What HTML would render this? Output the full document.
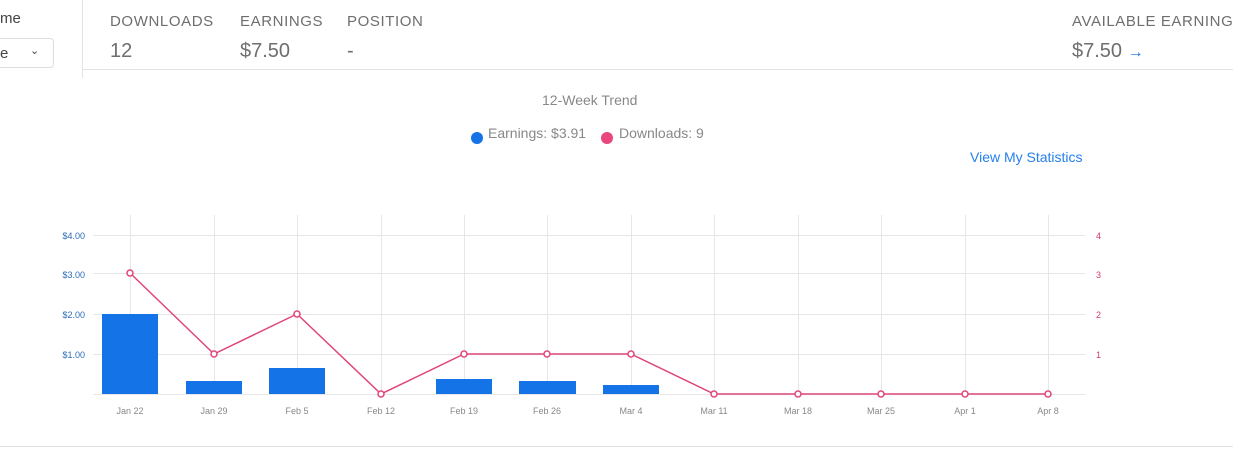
<!DOCTYPE html>
<html><head><style>
body{margin:0;width:1233px;height:451px;overflow:hidden;background:#fff;font-family:"Liberation Sans",sans-serif;position:relative}
.a{position:absolute;white-space:nowrap}
.lab{font-size:15px;letter-spacing:0.6px;color:#6e6e6e;top:13px}
.val{font-size:20px;color:#6e6e6e;top:40px}
</style></head><body>
<div class="a" style="left:0;top:10px;font-size:15px;color:#444">me</div>
<div class="a" style="left:-10px;top:38px;width:64px;height:30px;border:1px solid #ddd;border-radius:4px;box-sizing:border-box"></div>
<div class="a" style="left:0;top:45px;font-size:15px;color:#444">e</div>
<div class="a" style="left:30px;top:44px;font-size:11px;color:#444">&#8964;</div>
<div class="a" style="left:82px;top:0;width:1px;height:78px;background:#e3e3e3"></div>
<div class="a" style="left:82px;top:69px;width:1151px;height:1px;background:#e3e3e3"></div>
<div class="a lab" style="left:110px">DOWNLOADS</div>
<div class="a lab" style="left:240px">EARNINGS</div>
<div class="a lab" style="left:347px">POSITION</div>
<div class="a lab" style="left:1072px">AVAILABLE EARNINGS</div>
<div class="a val" style="left:110px">12</div>
<div class="a val" style="left:240px">$7.50</div>
<div class="a val" style="left:347px">-</div>
<div class="a val" style="left:1072px">$7.50 <span style="color:#1473e6;font-size:16px">&#8594;</span></div>
<div class="a" style="left:542px;top:92px;font-size:14px;color:#888">12-Week Trend</div>
<div class="a" style="left:471px;top:132px;width:12px;height:12px;border-radius:50%;background:#1473e6"></div>
<div class="a" style="left:488px;top:125px;font-size:14px;color:#888">Earnings: $3.91</div>
<div class="a" style="left:601px;top:132px;width:12px;height:12px;border-radius:50%;background:#e8467c"></div>
<div class="a" style="left:619px;top:125px;font-size:14px;color:#888">Downloads: 9</div>
<div class="a" style="left:970px;top:149px;font-size:14px;color:#2680eb">View My Statistics</div>
<div class="a" style="left:0;top:446px;width:1233px;height:1px;background:#e3e3e3"></div>
<svg class="a" style="left:0;top:0" width="1233" height="451" font-family="Liberation Sans,sans-serif">
<g stroke="#e6e6e6" stroke-width="1">
<line x1="93" x2="1085" y1="235.5" y2="235.5"/><line x1="93" x2="1085" y1="273.5" y2="273.5"/><line x1="93" x2="1085" y1="314.5" y2="314.5"/><line x1="93" x2="1085" y1="354.5" y2="354.5"/><line x1="93" x2="1085" y1="394.5" y2="394.5"/>
<line x1="130.5" x2="130.5" y1="215" y2="394"/><line x1="214.5" x2="214.5" y1="215" y2="394"/><line x1="297.5" x2="297.5" y1="215" y2="394"/><line x1="381.5" x2="381.5" y1="215" y2="394"/><line x1="464.5" x2="464.5" y1="215" y2="394"/><line x1="547.5" x2="547.5" y1="215" y2="394"/><line x1="631.5" x2="631.5" y1="215" y2="394"/><line x1="714.5" x2="714.5" y1="215" y2="394"/><line x1="798.5" x2="798.5" y1="215" y2="394"/><line x1="881.5" x2="881.5" y1="215" y2="394"/><line x1="965.5" x2="965.5" y1="215" y2="394"/><line x1="1048.5" x2="1048.5" y1="215" y2="394"/>
</g>
<g fill="#1473e6">
<rect x="102" y="314" width="56" height="80"/><rect x="186" y="381" width="56" height="13"/><rect x="269" y="368" width="56" height="26"/><rect x="436" y="379" width="56" height="15"/><rect x="519" y="381" width="57" height="13"/><rect x="603" y="385" width="56" height="9"/>
</g>
<polyline fill="none" stroke="#e0457b" stroke-width="1.5" points="130,273 214,354 297,314 381,394 464,354 547,354 631,354 714,394 798,394 881,394 965,394 1048,394"/>
<g fill="#fff" stroke="#e0457b" stroke-width="1.5">
<circle cx="130" cy="273" r="3"/><circle cx="214" cy="354" r="3"/><circle cx="297" cy="314" r="3"/><circle cx="381" cy="394" r="3"/><circle cx="464" cy="354" r="3"/><circle cx="547" cy="354" r="3"/><circle cx="631" cy="354" r="3"/><circle cx="714" cy="394" r="3"/><circle cx="798" cy="394" r="3"/><circle cx="881" cy="394" r="3"/><circle cx="965" cy="394" r="3"/><circle cx="1048" cy="394" r="3"/>
</g>
<g font-size="9" fill="#2b6cb8" text-anchor="end">
<text x="85" y="239">$4.00</text><text x="85" y="278">$3.00</text><text x="85" y="318">$2.00</text><text x="85" y="358">$1.00</text>
</g>
<g font-size="9" fill="#d63a6e">
<text x="1096" y="239">4</text><text x="1096" y="278">3</text><text x="1096" y="318">2</text><text x="1096" y="358">1</text>
</g>
<g font-size="9" fill="#888" text-anchor="middle">
<text x="130" y="414">Jan 22</text><text x="214" y="414">Jan 29</text><text x="297" y="414">Feb 5</text><text x="381" y="414">Feb 12</text><text x="464" y="414">Feb 19</text><text x="547" y="414">Feb 26</text><text x="631" y="414">Mar 4</text><text x="714" y="414">Mar 11</text><text x="798" y="414">Mar 18</text><text x="881" y="414">Mar 25</text><text x="965" y="414">Apr 1</text><text x="1048" y="414">Apr 8</text>
</g>
</svg>
</body></html>
